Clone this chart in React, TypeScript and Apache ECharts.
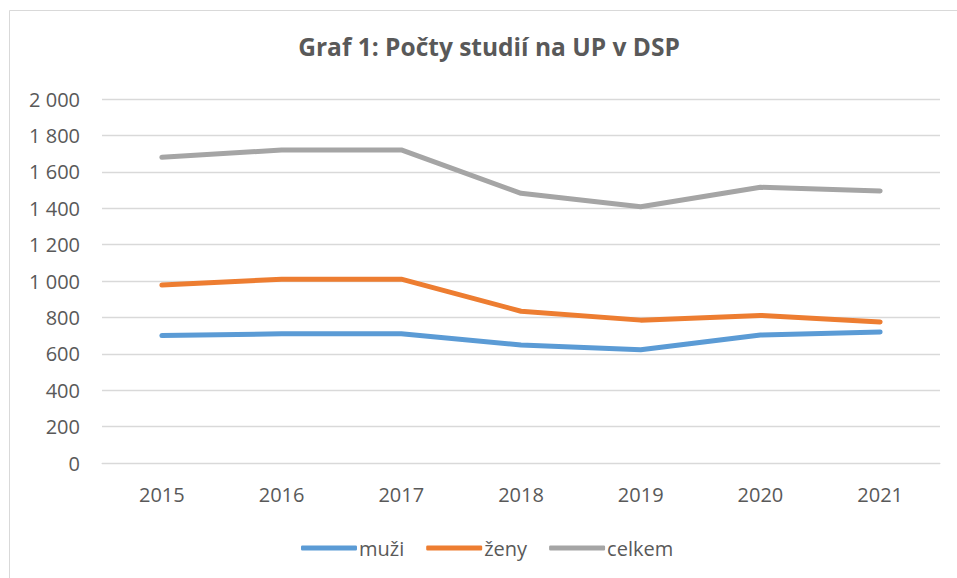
import React, { useEffect, useRef } from "react";
import * as echarts from "echarts";

const years = ["2015", "2016", "2017", "2018", "2019", "2020", "2021"];
const muzi = [700, 710, 710, 648, 622, 703, 720];
const zeny = [978, 1010, 1010, 834, 785, 811, 775];
const celkem = [1680, 1720, 1720, 1482, 1408, 1515, 1495];
const seriesNames = ["muži", "ženy", "celkem"];
const colors = ["#5B9BD5", "#ED7D31", "#A5A5A5"];

const FONT = "'Open Sans', 'Liberation Sans', sans-serif";

export default function App() {
  const ref = useRef<HTMLDivElement>(null);
  useEffect(() => {
    if (!ref.current) return;
    const chart = echarts.init(ref.current, undefined, { renderer: "svg" });
    const data = [muzi, zeny, celkem];
    chart.setOption({
      animation: false,
      backgroundColor: "#ffffff",
      color: colors,
      title: {
        text: "Graf 1: Počty studií na UP v DSP",
        left: 484,
        textAlign: "center",
        top: 29,
        textStyle: { fontFamily: FONT, fontSize: 24.5, fontWeight: "bold", color: "#595959" },
      },
      graphic: [
        {
          type: "rect",
          shape: { x: 9.5, y: 10.5, width: 1000, height: 700 },
          style: { fill: "none", stroke: "#d9d9d9", lineWidth: 1 },
          silent: true,
        },
      ],
      legend: {
        top: 533,
        left: 296,
        itemWidth: 56,
        itemHeight: 5,
        itemGap: 22,
        icon: "roundRect",
        textStyle: { fontFamily: FONT, fontSize: 20, color: "#595959", padding: [0, 0, 0, -3] },
        data: seriesNames,
      },
      grid: { left: 102, right: 17, top: 99, bottom: 115, containLabel: false },
      xAxis: {
        type: "category",
        data: years,
        boundaryGap: true,
        axisLine: { lineStyle: { color: "#d9d9d9", width: 1 } },
        axisTick: { show: false },
        axisLabel: { fontFamily: FONT, fontSize: 20, color: "#595959", margin: 21 },
      },
      yAxis: {
        type: "value",
        min: 0,
        max: 2000,
        interval: 200,
        axisLine: { show: false },
        axisTick: { show: false },
        splitLine: { lineStyle: { color: "#d9d9d9", width: 1.3 } },
        axisLabel: {
          fontFamily: FONT,
          fontSize: 20,
          color: "#595959",
          margin: 22,
          formatter: (v: number) => {
            const s = String(v);
            return s.length > 3 ? s.slice(0, s.length - 3) + " " + s.slice(-3) : s;
          },
        },
      },
      series: seriesNames.map((name, i) => ({
        name,
        type: "line",
        data: data[i],
        symbol: "none",
        lineStyle: { width: 5, color: colors[i], cap: "round", join: "round" },
        itemStyle: { color: colors[i] },
      })),
    });
    return () => chart.dispose();
  }, []);
  return (
    <div style={{ position: "fixed", left: 0, top: 0, width: 957, height: 578, background: "#fff" }}>
      <div ref={ref} style={{ width: 957, height: 578 }} />
    </div>
  );
}
